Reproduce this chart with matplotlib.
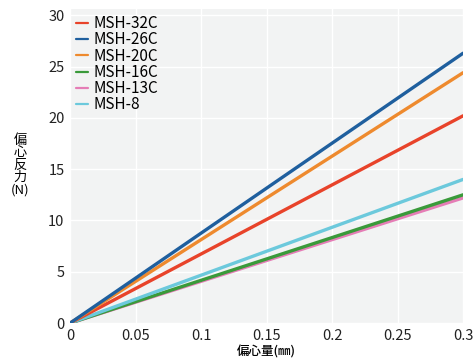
import matplotlib.pyplot as plt

plt.rcParams['font.family'] = ['Noto Sans CJK JP', 'DejaVu Sans']

names = ['MSH-32C', 'MSH-26C', 'MSH-20C', 'MSH-16C', 'MSH-13C', 'MSH-8']
colors = ['#e8432a', '#1f5f9e', '#ee8a2e', '#3a9a3a', '#e57db6', '#6cc9dc']
x = [0, 0.3]
end_vals = [20.2, 26.3, 24.4, 12.5, 12.2, 14.0]

fig = plt.figure(figsize=(4.74, 3.63), dpi=100)
ax = fig.add_axes([0.148, 0.11, 0.829, 0.865])
ax.set_facecolor('#f2f3f3')

# draw lower lines first so the steep ones sit on top
order = [4, 3, 5, 0, 2, 1]
for i in order:
    ax.plot(x, [0, end_vals[i]], color=colors[i], lw=2.4, label=names[i],
            solid_capstyle='round')

handles, labels = ax.get_legend_handles_labels()
lookup = dict(zip(labels, handles))
leg = ax.legend([lookup[n] for n in names], names, loc='upper left',
                frameon=False, handlelength=0.75, handletextpad=0.35,
                labelspacing=-0.05, fontsize=11, borderaxespad=0.1,
                borderpad=0.3)
for h in leg.legend_handles:
    h.set_linewidth(1.6)

ax.set_xlim(0, 0.3)
ax.set_ylim(0, 30.6)
ax.set_xticks([0, 0.05, 0.1, 0.15, 0.2, 0.25, 0.3])
ax.set_xticklabels(['0', '0.05', '0.1', '0.15', '0.2', '0.25', '0.3'])
ax.set_yticks([0, 5, 10, 15, 20, 25, 30])
ax.grid(color='white', lw=1)
ax.set_axisbelow(True)
for s in ax.spines.values():
    s.set_visible(False)
ax.tick_params(length=0, labelsize=10.5, colors='#222222', pad=4)

ax.set_xlabel('偏心量(㎜)', fontsize=9, labelpad=2, fontweight='medium')
fig.text(0.043, 0.545, '偏\n心\n反\n力\n(N)', fontsize=9.5, ha='center', va='center',
         linespacing=0.95)

fig.savefig('out.png', dpi=100)
